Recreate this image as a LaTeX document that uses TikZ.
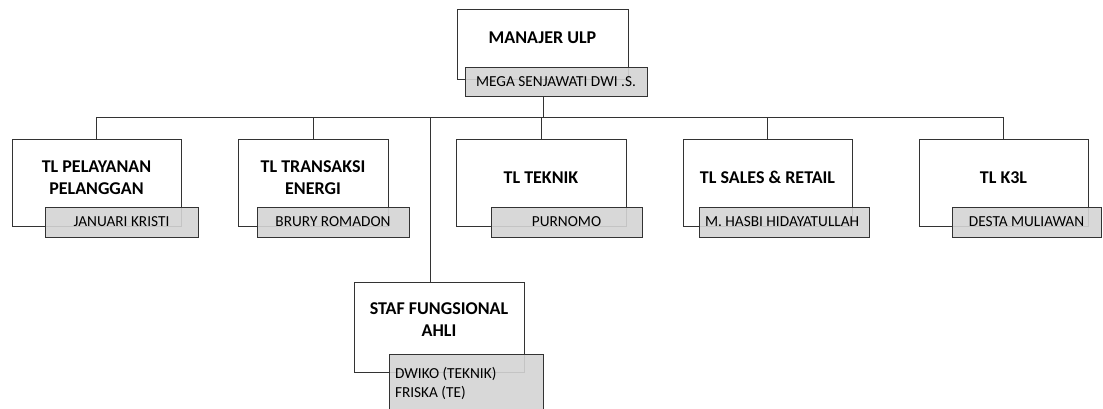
\documentclass[tikz,border=0pt]{standalone}
\usepackage{fontspec}
\setmainfont{Carlito}
\frenchspacing
\begin{document}
\begin{tikzpicture}[x=1pt,y=-1pt]
        \tikzstyle{every node}=[inner sep=0pt]
        \tikzstyle{jabatan}=[draw=black!80, line width=0.8pt, fill=white, rectangle, minimum height=87pt]
        \tikzstyle{judul}=[font=\fontsize{18}{22}\selectfont\bfseries, align=center]
        \tikzstyle{pejabat}=[draw=black!80, line width=0.8pt, fill=black!17, fill opacity=0.9, text opacity=1, font=\fontsize{15.3}{19}\selectfont, minimum height=30pt]
        \tikzstyle{garis}=[draw=black!80, line width=0.8pt]
        \clip (0,0) rectangle (1103,408);
        % kotak jabatan
        \node[jabatan, minimum width=171pt, minimum height=70pt] (mgr) at (542.5,44) {};
        \node[jabatan, minimum width=169pt] (pel) at (96.5,182.5) {};
        \node[jabatan, minimum width=150pt] (trx) at (313,182.5) {};
        \node[jabatan, minimum width=170pt] (tek) at (541,182.5) {};
        \node[jabatan, minimum width=169pt] (sal) at (767.5,182.5) {};
        \node[jabatan, minimum width=169pt] (k3l) at (1003.5,182.5) {};
        \node[jabatan, minimum width=170pt, minimum height=90pt] (staf) at (439,327) {};
        \node[judul] (mgrT) at ([yshift=6pt]mgr.center) {MANAJER ULP};
        \node[judul] (pelT) at ([yshift=4.5pt]pel.center) {TL PELAYANAN\\PELANGGAN};
        \node[judul] (trxT) at ([yshift=4.5pt]trx.center) {TL TRANSAKSI\\ENERGI};
        \node[judul] (tekT) at ([yshift=5pt]tek.center) {TL TEKNIK};
        \node[judul] (salT) at ([yshift=5pt]sal.center) {TL SALES \& RETAIL};
        \node[judul] (k3lT) at ([yshift=5pt]k3l.center) {TL K3L};
        \node[judul] (stafT) at ([yshift=7pt]staf.center) {STAF FUNGSIONAL\\AHLI};
        % kotak nama
        \node[pejabat, minimum width=182pt, minimum height=29pt] (mgrN) at (556,81.5) {MEGA SENJAWATI DWI .S.};
        \node[pejabat, minimum width=153pt] (pelN) at (121.5,222) {JANUARI KRISTI};
        \node[pejabat, minimum width=152pt] (trxN) at (333,222) {BRURY ROMADON};
        \node[pejabat, minimum width=151pt] (tekN) at (566.5,222) {PURNOMO};
        \node[pejabat, text width=158pt, inner xsep=6pt, align=flush left] (salN) at (784,222) {M. HASBI HIDAYATULLAH};
        \node[pejabat, minimum width=149pt] (k3lN) at (1026.5,222) {DESTA MULIAWAN};
        \node[pejabat, text width=142pt, inner xsep=6pt, align=flush left, minimum height=58pt] (stafN) at (466,383) {DWIKO (TEKNIK)\\FRISKA (TE)};
        % garis penghubung
        \coordinate (cabang) at (543,117);
        \draw[garis] (mgrN.south -| cabang) -- (cabang);
        \draw[garis] (cabang) -| (pel.north);
        \draw[garis] (cabang) -| (trx.north);
        \draw[garis] (cabang) -| (tek.north);
        \draw[garis] (cabang) -| (sal.north);
        \draw[garis] (cabang) -| (k3l.north);
        \draw[garis] (cabang) -| ([xshift=-9pt]staf.north);
    \end{tikzpicture}
\end{document}
